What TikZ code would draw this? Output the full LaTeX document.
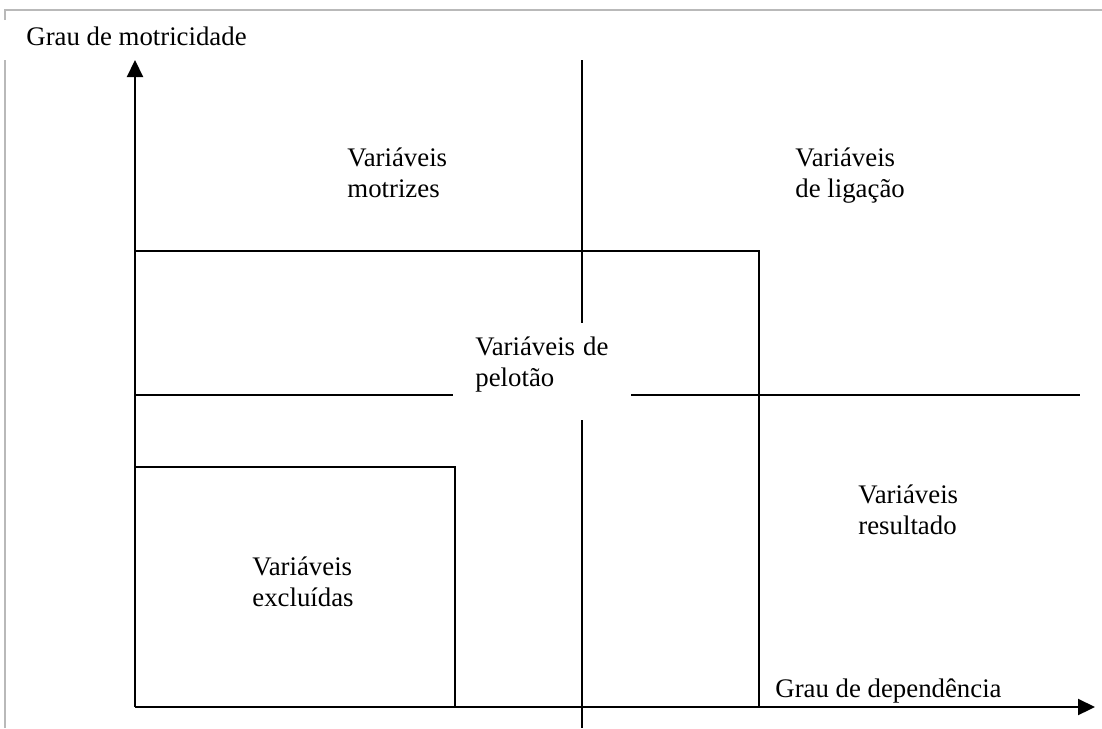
\documentclass[tikz,border=0pt]{standalone}
\usepackage{fontspec}
\setmainfont{Liberation Serif}
\usetikzlibrary{arrows.meta,positioning}

\tikzset{
  axis/.style={line width=1.1pt, -{Triangle[length=8.5pt,width=8pt]}},
  bound/.style={line width=1.1pt},
  label/.style={anchor=base west, inner sep=0pt, align=left, font=\fontsize{13.4}{15.5}\selectfont},
}

\begin{document}
\begin{tikzpicture}[x=0.5pt, y=-0.5pt]
  \useasboundingbox (0,0) rectangle (1102,728);
  % Frame
  \draw[gray!55, line width=1pt] (5,728) -- (5,60) (5,20) -- (5,10) -- (1102,10);
  % Axes
  \coordinate (o) at (135,707);
  \coordinate (ytip) at (135,60);
  \coordinate (xtip) at (1095,707);
  \draw[axis] (o) -- (ytip);
  \draw[axis] (o) -- (xtip);
  \node[label] (ylab) at (26,45) {Grau de motricidade};
  \node[label] (xlab) at (775,697) {Grau de dependência};
  % Centre cross
  \coordinate (vtop) at (582,60);
  \coordinate (vmidA) at (582,323);
  \coordinate (vmidB) at (582,420);
  \coordinate (vbot) at (582,728);
  \coordinate (hleftA) at (135,395);
  \coordinate (hleftB) at (453,395);
  \coordinate (hrightA) at (631,395);
  \coordinate (hrightB) at (1080,395);
  \draw[bound] (vtop) -- (vmidA);
  \draw[bound] (vmidB) -- (vbot);
  \draw[bound] (hleftA) -- (hleftB);
  \draw[bound] (hrightA) -- (hrightB);
  % Boxes
  \coordinate (bigA) at (135,251);
  \coordinate (bigB) at (759,251);
  \coordinate (bigC) at (759,707);
  \coordinate (smallA) at (135,467);
  \coordinate (smallB) at (455,467);
  \coordinate (smallC) at (455,707);
  \draw[bound] (bigA) -- (bigB) -- (bigC);
  \draw[bound] (smallA) -- (smallB) -- (smallC);
  % Zones (base = last line)
  \node[label] (motriz) at (347,197) {Variáveis\\motrizes};
  \node[label] (ligacao) at (795,197) {Variáveis\\de ligação};
  \node[label] (pelotao) at (475,386) {Variáveis\hspace{0.3em}de\\pelotão};
  \node[label] (result) at (858,534) {Variáveis\\resultado};
  \node[label] (exclu) at (252,606) {Variáveis\\excluídas};
\end{tikzpicture}
\end{document}
